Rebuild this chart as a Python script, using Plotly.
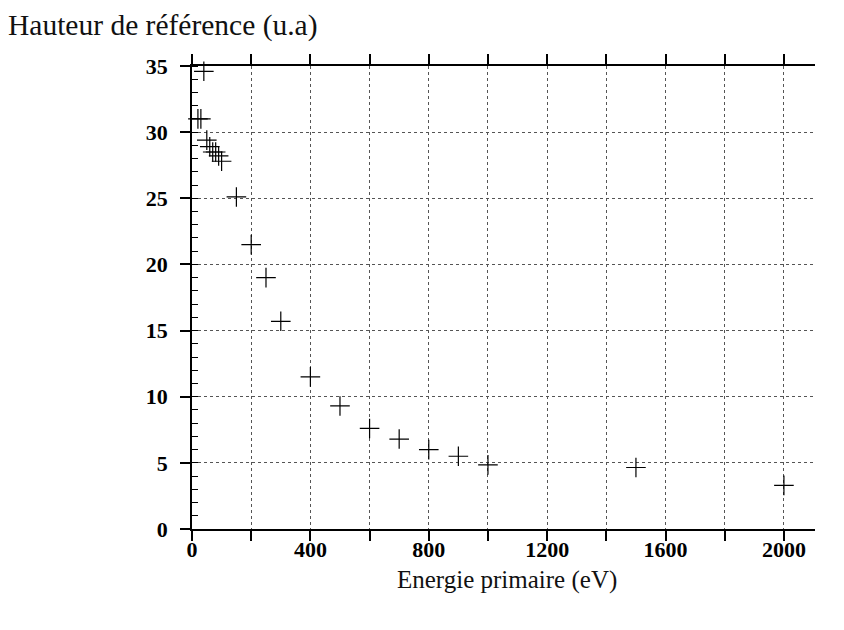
import plotly.graph_objects as go

energies = [20, 30, 40, 50, 60, 70, 80, 90, 100, 150, 200, 250, 300, 400, 500,
            600, 700, 800, 900, 1000, 1500, 2000]
heights = [31.0, 31.0, 34.6, 29.4, 28.9, 28.5, 28.5, 28.2, 27.8, 25.1, 21.5, 19.0,
           15.7, 11.5, 9.3, 7.6, 6.8, 6.0, 5.5, 4.85, 4.65, 3.3]

x_tickvals = list(range(0, 2001, 200))
x_ticktext = [str(v) if v % 400 == 0 else "" for v in x_tickvals]
y_tickvals = [0, 5, 10, 15, 20, 25, 30, 35]

title_text = "Hauteur de référence (u.a)"
xlabel_text = "Energie primaire (eV)"

serif = "Liberation Serif"

fig = go.Figure()
fig.add_trace(go.Scatter(
    x=energies, y=heights, mode="markers",
    marker=dict(symbol="cross-thin", size=14, color="black",
                line=dict(width=1.2, color="black")),
    showlegend=False, cliponaxis=False,
))

OFF = 8  # page body margin
W, H = 844, 630
L, R, T, B = 192 - OFF, W - (815 - OFF), 66 - OFF, H - (529 - OFF)
pw, ph = W - L - R, H - T - B

fig.update_layout(
    width=W, height=H,
    margin=dict(l=L, r=R, t=T, b=B, pad=0),
    paper_bgcolor="white", plot_bgcolor="white",
    font=dict(family=serif, color="black"),
    title=dict(text=title_text, xref="container", yref="container",
               x=0, xanchor="left", y=1 - (25 - OFF) / H, yanchor="middle",
               font=dict(family=serif, size=29.5, color="#111")),
    xaxis=dict(
        range=[0, 2105], tickmode="array", tickvals=x_tickvals, ticktext=x_ticktext,
        ticks="outside", ticklen=10, tickwidth=1.5, tickcolor="black",
        showline=True, linecolor="black", linewidth=1.5, mirror="ticks",
        showgrid=True, gridcolor="#555", griddash="dot", gridwidth=1,
        zeroline=False, ticklabelstandoff=-10,
        tickfont=dict(family=serif, size=22, color="black", weight="bold"),
    ),
    yaxis=dict(
        range=[0, 35], tickmode="array", tickvals=y_tickvals,
        ticks="outside", ticklen=10, tickwidth=1.5, tickcolor="black",
        showline=True, linecolor="black", linewidth=1.5, mirror=False,
        showgrid=True, gridcolor="#555", griddash="dot", gridwidth=1,
        zeroline=False, ticklabelstandoff=8,
        minor=dict(dtick=1, ticks="inside", ticklen=6, tickwidth=1, tickcolor="black",
                   showgrid=False),
        tickfont=dict(family=serif, size=22, color="black", weight="bold"),
    ),
)

fig.add_annotation(
    text=xlabel_text, xref="paper", yref="paper",
    x=(507 - 192) / pw, y=(529 - 580) / ph, xanchor="center", yanchor="middle",
    showarrow=False, font=dict(family=serif, size=25, color="#111"),
)

fig.write_html("out.html")
